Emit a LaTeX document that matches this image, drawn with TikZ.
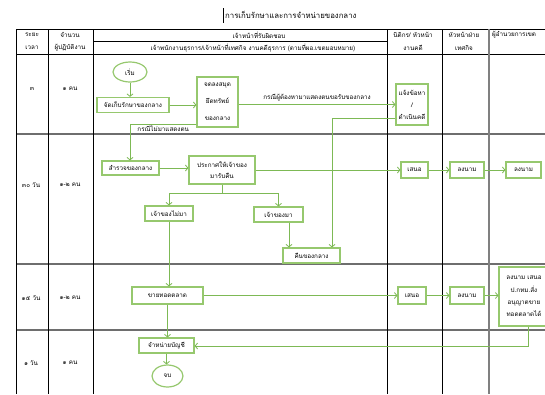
\documentclass[tikz,border=0pt]{standalone}
\usepackage{fontspec}
\setmainfont{Loma}[Script=Thai]
\usetikzlibrary{arrows.meta,calc,shapes.geometric}
\definecolor{boxgreen}{RGB}{150,200,110}
\definecolor{linegreen}{RGB}{125,185,85}
\definecolor{rowgray}{RGB}{110,110,110}
\tikzset{
  fs/.style={font=\fontsize{6.3}{8}\selectfont},
  box/.style={draw=boxgreen, line width=1.2pt, fill=white, inner sep=0pt, align=center, fs},
  oval/.style={box, ellipse},
  arr/.style={draw=linegreen, line width=0.8pt, -{Straight Barb[length=2.5pt,width=6pt]}},
  plain/.style={draw=linegreen, line width=0.8pt},
  lbl/.style={fs, inner sep=1pt},
  hdr/.style={fs, inner sep=0pt},
  vline/.style={draw=black, line width=0.7pt},
  hline/.style={draw=rowgray, line width=1.1pt},
}
\begin{document}
\begin{tikzpicture}[x=1pt,y=-1pt]
\useasboundingbox (0,0) rectangle (545,394);
\fill[white] (0,0) rectangle (545,394);
\clip (0,0) rectangle (545,394);
% title
\draw[black, line width=0.6pt] (223.5,8) -- (223.5,23);
\node[font=\fontsize{7.8}{9}\selectfont, anchor=west, inner sep=0pt] (title) at (225,15) {การเก็บรักษาและการจำหน่ายของกลาง};
% table lines
\draw[vline] (16,29) -- (545,29);
\draw[vline] (93,41) -- (387,41);
\draw[vline] (16,54) -- (545,54);
\draw[hline] (16,134) -- (545,134);
\draw[hline] (16,264) -- (545,264);
\draw[hline] (16,330) -- (545,330);
\foreach \x in {16,48,93,387,442} \draw[vline] (\x,29) -- (\x,394);
\draw[draw=gray, line width=1.6pt] (489,29) -- (489,394);
% header texts
\node[hdr] (h1a) at (32,35) {ระยะ};
\node[hdr] (h1b) at (32,48) {เวลา};
\node[hdr] (h2a) at (70,35) {จำนวน};
\node[hdr] (h2b) at (70,48) {ผู้ปฏิบัติงาน};
\node[hdr] (h3a) at (259,35) {เจ้าหน้าที่รับผิดชอบ};
\node[hdr] (h3b) at (253,48) {เจ้าพนักงานธุรการ/เจ้าหน้าที่เทศกิจ งานคดีธุรการ (ตามที่ผอ.เขตมอบหมาย)};
\node[hdr] (h4a) at (413,35) {นิติกร/ หัวหน้า};
\node[hdr] (h4b) at (413,48) {งานคดี};
\node[hdr] (h5a) at (464,35) {หัวหน้าฝ่าย};
\node[hdr] (h5b) at (464,48) {เทศกิจ};
\node[hdr, anchor=west] (h6a) at (492,35) {ผู้อำนวยการเขต};
% row texts
\node[hdr] (r1a) at (32,89) {๓};
\node[hdr] (r1b) at (70,89) {๑ คน};
\node[hdr] (r2a) at (31,185) {๓๐ วัน};
\node[hdr] (r2b) at (70,185) {๑-๒ คน};
\node[hdr] (r3a) at (31,298) {๑๕ วัน};
\node[hdr] (r3b) at (70,298) {๑-๒ คน};
\node[hdr] (r4a) at (31,363) {๑ วัน};
\node[hdr] (r4b) at (70,363) {๑ คน};
% flow nodes
\node[oval, minimum width=34pt, minimum height=20pt] (start) at (130,72) {เริ่ม};
\node[box, minimum width=72pt, minimum height=15pt] (keep) at (133,105) {จัดเก็บรักษาของกลาง};
\node[box, minimum width=41pt, minimum height=50pt, font=\fontsize{6.3}{17}\selectfont] (record) at (217.5,102) {จดลงสมุด\\ยึดทรัพย์\\ของกลาง};
\node[box, minimum width=32pt, minimum height=41pt, font=\fontsize{6.3}{12}\selectfont] (charge) at (412,104.5) {แจ้งข้อหา\\/\\ดำเนินคดี};
\node[box, minimum width=57pt, minimum height=14pt] (survey) at (130.5,168) {สำรวจของกลาง};
\node[box, minimum width=66pt, minimum height=28pt, font=\fontsize{6.3}{11}\selectfont] (announce) at (222,170) {ประกาศให้เจ้าของ\\มารับคืน};
\node[box, minimum width=48pt, minimum height=15pt] (notcome) at (169,213.5) {เจ้าของไม่มา};
\node[box, minimum width=49pt, minimum height=15pt] (come) at (278.5,214.5) {เจ้าของมา};
\node[box, minimum width=57pt, minimum height=15pt] (return) at (311.5,255.5) {คืนของกลาง};
\node[box, minimum width=27pt, minimum height=16pt] (prop1) at (414.5,170) {เสนอ};
\node[box, minimum width=34pt, minimum height=16pt] (sign1) at (467,170) {ลงนาม};
\node[box, minimum width=35pt, minimum height=16pt] (sign2) at (523.5,170) {ลงนาม};
\node[box, minimum width=71pt, minimum height=17pt] (auction) at (167.5,295.5) {ขายทอดตลาด};
\node[box, minimum width=28pt, minimum height=17pt] (prop2) at (412,295.5) {เสนอ};
\node[box, minimum width=34pt, minimum height=17pt] (sign3) at (467,295.5) {ลงนาม};
\node[box, minimum width=50pt, minimum height=59pt, font=\fontsize{6.3}{12.3}\selectfont] (approve) at (524,296.5) {ลงนาม เสนอ\\ป.กทม.สั่ง\\อนุญาตขาย\\ทอดตลาดได้};
\node[box, minimum width=55pt, minimum height=15pt] (writeoff) at (166.5,345.5) {จำหน่ายบัญชี};
\node[oval, minimum width=31pt, minimum height=22pt] (end) at (167.5,376) {จบ};
% coordinates
\coordinate (c1) at (332,118);
\coordinate (c2) at (130,124);
\coordinate (b) at (222,193);
\coordinate (c3) at (528,346);
% connectors
\draw[arr] (start.south) -- (start.south |- keep.north);
\draw[arr] (keep.east) -- (keep.east -| record.west);
\draw[arr] (charge.west -| record.east) -- node[lbl, above=1.5pt] {กรณีผู้ต้องหามาแสดงตนขอรับของกลาง} (charge.west);
\draw[arr] (charge.west |- c1) -- (c1) -- (c1 |- return.north);
\draw[arr] (record.west |- c2) -- node[lbl, below=0.5pt] {กรณีไม่มาแสดงตน} (c2) -- (c2 |- survey.north);
\draw[arr] (survey.east) -- (survey.east -| announce.west);
\draw[arr] (announce.east) -- (announce.east -| prop1.west);
\draw[arr] (prop1.east) -- (prop1.east -| sign1.west);
\draw[arr] (sign1.east) -- (sign1.east -| sign2.west);
\draw[plain] (announce.south) -- (b);
\draw[arr] (b) -| (notcome.north);
\draw[arr] (b) -| (come.north);
\draw[arr] (notcome.south) -- (notcome.south |- auction.north);
\draw[arr] ([xshift=10.5pt]come.south) -- ([xshift=10.5pt]come.south |- return.north);
\draw[arr] (auction.east) -- (auction.east -| prop2.west);
\draw[arr] (prop2.east) -- (prop2.east -| sign3.west);
\draw[arr] (sign3.east) -- (sign3.east -| approve.west);
\draw[arr] (approve.south -| c3) -- (c3) -- (c3 -| writeoff.east);
\draw[arr] (auction.south) -- (auction.south |- writeoff.north);
\draw[arr] (writeoff.south) -- (writeoff.south |- end.north);
\end{tikzpicture}
\end{document}
